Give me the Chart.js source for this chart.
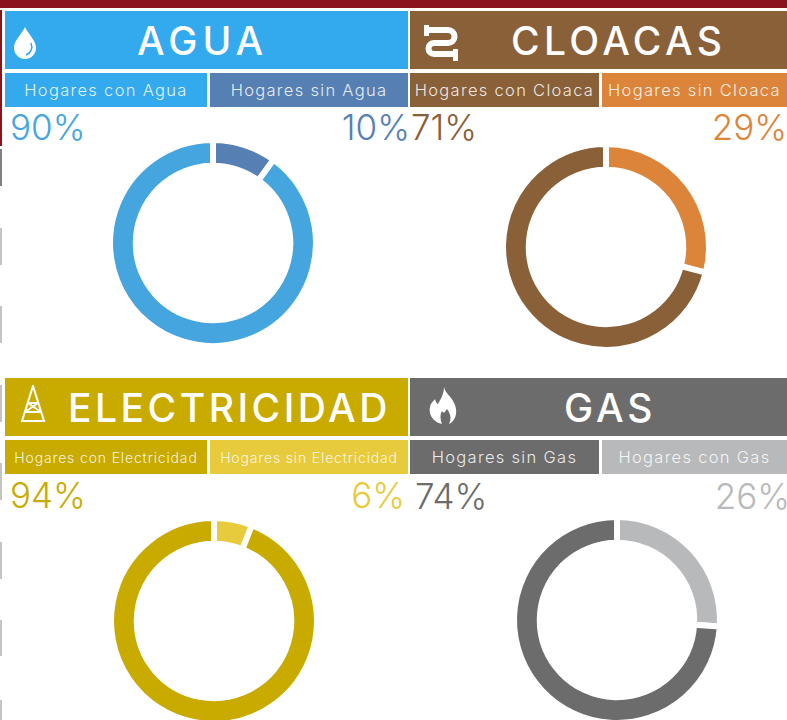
<!DOCTYPE html>
<html>
<head>
<meta charset="utf-8">
<title>Servicios en hogares</title>
<script src="https://cdn.jsdelivr.net/npm/chart.js@4/dist/chart.umd.min.js"></script>
<style>
    html, body { margin: 0; padding: 0; background: #fff; }
    body { position: relative; width: 787px; height: 720px; overflow: hidden; font-family: Inter, "Noto Sans", sans-serif; }
    .box { position: absolute; display: flex; align-items: center; color: #fff; white-space: nowrap; box-sizing: border-box; }
    .title { font-size: 39px; font-weight: 500; }
    .sub { justify-content: center; font-size: 16.5px; font-weight: 300; letter-spacing: 1.3px; color: rgba(255,255,255,.88); }
    .sub.small { font-size: 14px; letter-spacing: 0.85px; }
    .pct { position: absolute; font-size: 35px; font-weight: 300; line-height: 40px; white-space: nowrap; }
    .icon { position: absolute; }
    .strip { position: absolute; left: 0; width: 2px; }
    canvas { position: absolute; }
</style>
</head>
<body>
<div class="box" style="left:0;top:0;width:787px;height:8px;background:#8b131d"></div>
<script>
const categories = ['AGUA', 'CLOACAS', 'ELECTRICIDAD', 'GAS'];
const sliceLabels = [
    ['Hogares sin Agua', 'Hogares con Agua'],
    ['Hogares sin Cloaca', 'Hogares con Cloaca'],
    ['Hogares sin Electricidad', 'Hogares con Electricidad'],
    ['Hogares con Gas', 'Hogares sin Gas']
];
const aguaValues = [10, 90];
const cloacasValues = [29, 71];
const electricidadValues = [6, 94];
const gasValues = [26, 74];
const seriesValues = [aguaValues, cloacasValues, electricidadValues, gasValues];

const sliceColors = [
    ['#5680b4', '#45a5de'],
    ['#dc853a', '#8a6039'],
    ['#e8cb3c', '#c9ab00'],
    ['#b8b9ba', '#6c6c6c']
];
const subColors = [
    ['#5680b4', '#33a9ee'],
    ['#dc853a', '#8a6039'],
    ['#e8cb3c', '#c9ab00'],
    ['#b8b9ba', '#6c6c6c']
];
const headerColors = ['#33a9ee', '#8a6039', '#c9ab00', '#6c6c6c'];

// x, y, w of each panel, split = where the left sub header ends, titleX = where the title starts
const panels = [
    { x: 5, y: 11, w: 403, h: 58, subY: 73, subH: 34, split: 202, pctY: 107, pctL: 10, pctR: 410, cx: 212.5, cy: 243.3, titleX: 137, titleGap: 5 },
    { x: 410, y: 11, w: 377, h: 58, subY: 73, subH: 34, split: 189, pctY: 107, pctL: 411, pctR: 787, cx: 606, cy: 246.5, titleX: 511, titleGap: 4.4 },
    { x: 5, y: 378, w: 403, h: 58, subY: 440, subH: 34, split: 202, pctY: 475, pctL: 10, pctR: 405, cx: 213.8, cy: 621.3, titleX: 68, titleGap: 3.5 },
    { x: 410, y: 378, w: 377, h: 58, subY: 440, subH: 34, split: 189, pctY: 476, pctL: 415, pctR: 790, cx: 617, cy: 619.5, titleX: 564, titleGap: 3.8 }
];

// bits of the page behind the chart, showing at the left edge
const edgeStrips = [
    [10, 146, '#8b131d'], [149, 186, '#808080'], [228, 265, '#c4c4c4'], [306, 343, '#c4c4c4'],
    [385, 422, '#c4c4c4'], [463, 500, '#c4c4c4'], [542, 579, '#c4c4c4'], [620, 656, '#c4c4c4'], [700, 720, '#c4c4c4']
];
edgeStrips.forEach(s => {
    const el = document.createElement('div');
    el.className = 'strip';
    el.style.cssText = `top:${s[0]}px;height:${s[1] - s[0]}px;background:${s[2]}`;
    document.body.appendChild(el);
});

function addBox(cls, text, left, top, width, height, bg) {
    const el = document.createElement('div');
    el.className = 'box ' + cls;
    el.textContent = text;
    el.style.cssText = `left:${left}px;top:${top}px;width:${width}px;height:${height}px;background:${bg}`;
    document.body.appendChild(el);
    return el;
}

function addPct(text, color, top, left, right) {
    const el = document.createElement('div');
    el.className = 'pct';
    el.textContent = text;
    el.style.color = color;
    el.style.top = top + 'px';
    if (left !== null) el.style.left = left + 'px';
    else el.style.right = (787 - right) + 'px';
    document.body.appendChild(el);
}

panels.forEach((p, i) => {
    const title = addBox('title', categories[i], p.x, p.y, p.w, p.h, headerColors[i]);
    title.style.paddingLeft = (p.titleX - p.x) + 'px';
    title.style.letterSpacing = p.titleGap + 'px';

    // sub headers read left to right, the big slice first
    const subCls = i === 2 ? 'sub small' : 'sub';
    addBox(subCls, sliceLabels[i][1], p.x, p.subY, p.split, p.subH, subColors[i][1]);
    addBox(subCls, sliceLabels[i][0], p.x + p.split + 3, p.subY, p.w - p.split - 3, p.subH, subColors[i][0]);

    addPct(seriesValues[i][1] + '%', sliceColors[i][1], p.pctY, p.pctL, null);
    addPct(seriesValues[i][0] + '%', sliceColors[i][0], p.pctY, null, p.pctR);

    const canvas = document.createElement('canvas');
    const size = 220;
    canvas.style.left = (p.cx - size / 2) + 'px';
    canvas.style.top = (p.cy - size / 2) + 'px';
    canvas.style.width = size + 'px';
    canvas.style.height = size + 'px';
    canvas.width = size;
    canvas.height = size;
    document.body.appendChild(canvas);

    new Chart(canvas, {
        type: 'doughnut',
        data: {
            labels: sliceLabels[i],
            datasets: [{
                data: seriesValues[i],
                backgroundColor: sliceColors[i],
                borderColor: '#fff',
                borderWidth: 6,
                borderAlign: 'center'
            }]
        },
        options: {
            responsive: false,
            animation: false,
            cutout: '75%',
            radius: 103,
            layout: { padding: 0 },
            plugins: { legend: { display: false }, tooltip: { enabled: false } }
        }
    });
});

// small white pictograms in the headers
const iconSvgs = [
    { l: 13, t: 27, w: 24, h: 32, s: '<path fill="#fff" d="M12 0C9 7 1 13 1 21a11 11 0 0 0 22 0C23 13 15 7 12 0z"/><path fill="none" stroke="#33a9ee" stroke-width="1.5" d="M18 16c2 5 0 10-5 12"/>' },
    { l: 424, t: 23, w: 36, h: 38, s: '<path fill="none" stroke="#fff" stroke-width="6" d="M3 7H24a6.500 6.500 0 0 1 0 13H10a5.500 5.500 0 0 0 0 11H30"/><path fill="#fff" d="M0 2h5v11H0zM29 26h5v12h-5z"/>' },
    { l: 20, t: 385, w: 26, h: 38, s: '<path fill="none" stroke="#fff" stroke-width="2" d="M13 1L2 36h22zM8 18h10M5 27h16M8 18l13 9M18 18L5 27"/>' },
    { l: 429, t: 387, w: 30, h: 38, s: '<path fill="#fff" d="M15 0c2 8 7 8 11 18 4 11-3 18-6 19 3-6 1-11-2-15-2 3-3 5-5 2-2 3-2 8 0 13C6 36-1 29 1 20c1-5 4-6 5-8 1 3 1 4 3 5 3-5 6-11 6-17z"/>' }
];
iconSvgs.forEach(ic => {
    const wrap = document.createElement('div');
    wrap.className = 'icon';
    wrap.style.cssText = `left:${ic.l}px;top:${ic.t}px`;
    wrap.innerHTML = `<svg width="${ic.w}" height="${ic.h}" viewBox="0 0 ${ic.w} ${ic.h}">${ic.s}</svg>`;
    document.body.appendChild(wrap);
});
</script>
</body>
</html>
